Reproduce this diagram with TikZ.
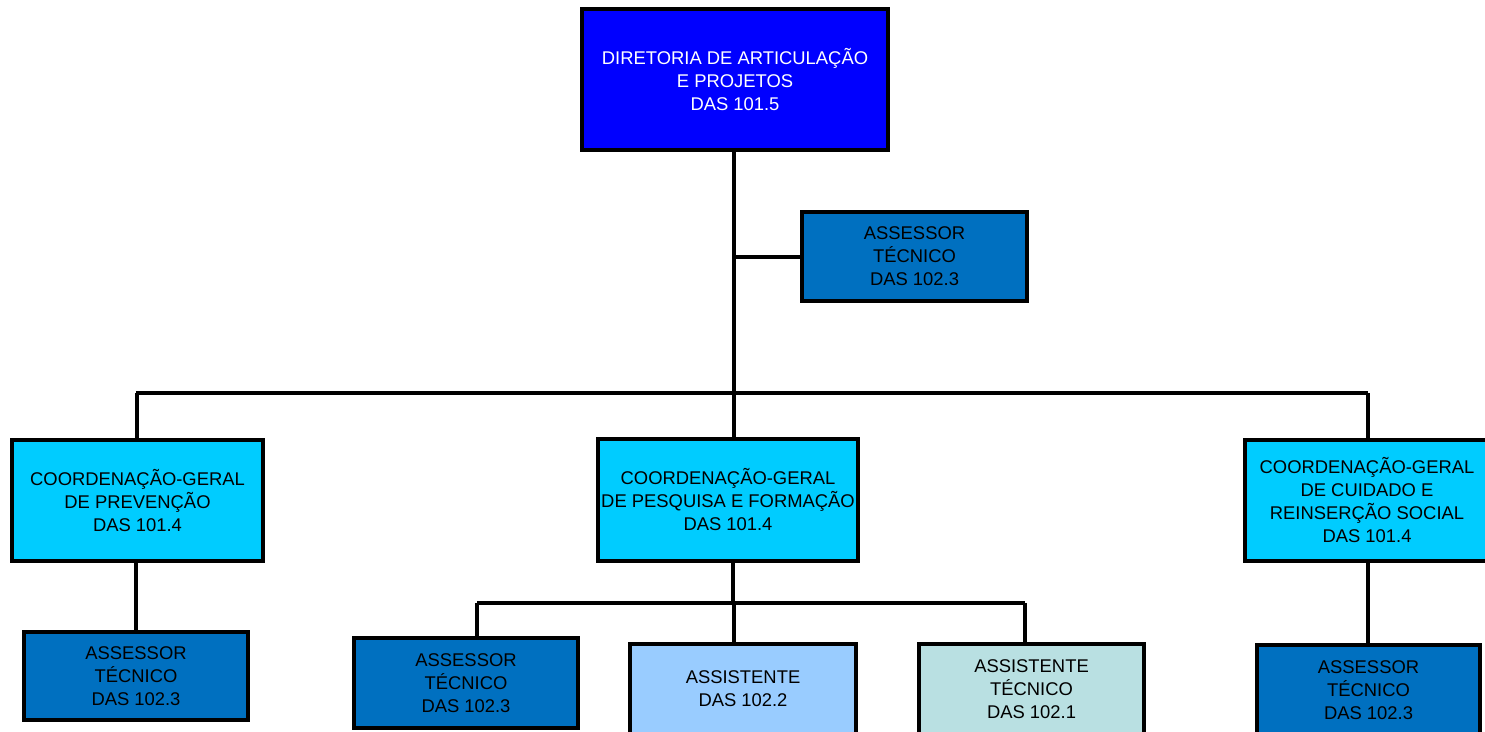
\documentclass[tikz,border=0pt]{standalone}
\usepackage{fontspec}
\setmainfont{Liberation Sans}
\definecolor{cdir}{RGB}{0,0,255}
\definecolor{cass}{RGB}{0,112,192}
\definecolor{ccg}{RGB}{0,204,255}
\definecolor{casst}{RGB}{153,204,255}
\definecolor{casstec}{RGB}{185,224,226}
\tikzset{
  box/.style={draw=black, line width=4pt, rectangle, align=center, inner sep=0pt,
    font=\fontsize{18.4}{23}\selectfont},
  conn/.style={draw=black, line width=4pt},
}
\begin{document}
\begin{tikzpicture}[x=1pt,y=-1pt]
\useasboundingbox (0,0) rectangle (1485,731);
\begin{scope}
\clip (0,0) rectangle (1485,731);
\fill[white] (0,0) rectangle (1485,731);
% nodes
\node[box, fill=cdir, text=white, minimum width=306pt, minimum height=141pt] (dir) at (735,79.5)
  {DIRETORIA DE ARTICULAÇÃO\\E PROJETOS\\DAS 101.5};
\node[box, fill=cass, minimum width=225pt, minimum height=89pt] (tass) at (914.5,256.5)
  {ASSESSOR\\TÉCNICO\\DAS 102.3};
\node[box, fill=ccg, minimum width=251pt, minimum height=121pt] (lcg) at (137.5,500.5)
  {COORDENAÇÃO-GERAL\\DE PREVENÇÃO\\DAS 101.4};
\node[box, fill=ccg, minimum width=260pt, minimum height=122pt] (mcg) at (728,500)
  {COORDENAÇÃO-GERAL\\DE PESQUISA E FORMAÇÃO\\DAS 101.4};
\node[box, fill=ccg, minimum width=244pt, minimum height=121pt] (rcg) at (1367,500.5)
  {COORDENAÇÃO-GERAL\\DE CUIDADO E\\REINSERÇÃO SOCIAL\\DAS 101.4};
\node[box, fill=cass, minimum width=224pt, minimum height=88pt] (lass) at (136,676)
  {ASSESSOR\\TÉCNICO\\DAS 102.3};
\node[box, fill=cass, minimum width=224pt, minimum height=90pt] (mass) at (466,683)
  {ASSESSOR\\TÉCNICO\\DAS 102.3};
\node[box, fill=casst, minimum width=226pt, minimum height=90pt] (asst) at (743,689)
  {ASSISTENTE\\DAS 102.2};
\node[box, fill=casstec, minimum width=225pt, minimum height=90pt] (asstec) at (1031.5,689)
  {ASSISTENTE\\TÉCNICO\\DAS 102.1};
\node[box, fill=cass, minimum width=223pt, minimum height=90pt] (rass) at (1368.5,690)
  {ASSESSOR\\TÉCNICO\\DAS 102.3};
% junction coordinates
\coordinate (j1) at (734,393);
\coordinate (hl) at (136,393);
\coordinate (hr) at (1368,393);
\coordinate (j2) at (733,603);
\coordinate (ml) at (477,603);
\coordinate (mr) at (1025,603);
% connectors
\draw[conn] (dir.south -| j1) -- (j1);
\draw[conn] (tass.west -| j1) -- (tass.west);
\draw[conn] (hl) -- (hr);
\draw[conn] (137,393) -- (lcg.north -| 137,0);
\draw[conn] (j1) -- (mcg.north -| j1);
\draw[conn] (hr) -- (rcg.north -| hr);
\draw[conn] (lcg.south -| 136,0) -- (lass.north -| 136,0);
\draw[conn] (mcg.south -| j2) -- (j2);
\draw[conn] (ml) -- (mr);
\draw[conn] (ml) -- (mass.north -| ml);
\draw[conn] (734,603) -- (asst.north -| 734,0);
\draw[conn] (mr) -- (asstec.north -| mr);
\draw[conn] (rcg.south -| hr) -- (rass.north -| hr);
\end{scope}
\end{tikzpicture}
\end{document}
